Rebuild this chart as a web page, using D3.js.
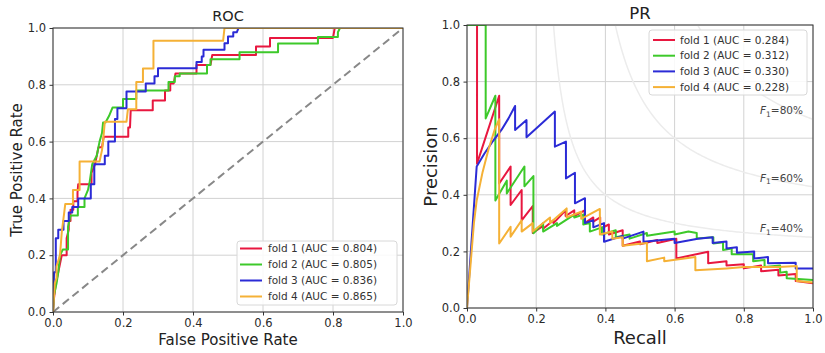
<!DOCTYPE html>
<html>
<head>
<meta charset="utf-8">
<script src="https://cdn.jsdelivr.net/npm/d3@7"></script>
<style>
  html, body { margin: 0; padding: 0; background: #fff; }
  svg { display: block; font-family: "DejaVu Sans", sans-serif; }
</style>
</head>
<body>
<svg id="chart" width="825" height="353"></svg>
<script>
// ---------------- data ----------------
const foldNames = ["fold 1", "fold 2", "fold 3", "fold 4"];
const rocAUC = ["0.804", "0.805", "0.836", "0.865"];
const prAUC = ["0.284", "0.312", "0.330", "0.228"];
const foldColors = ["#e8173f", "#3dc92a", "#2b2bd6", "#f5b136"];
const tickValues = [0, 0.2, 0.4, 0.6, 0.8, 1.0];
const tickLabels = ["0.0", "0.2", "0.4", "0.6", "0.8", "1.0"];
const f1Scores = [0.4, 0.6, 0.8];
const f1Labels = ["40%", "60%", "80%"];

// ROC curves: [false positive rate, true positive rate]
const rocFold1 = [[0,0],[0.003,0.05],[0.008,0.10],[0.015,0.14],[0.02,0.17],[0.025,0.2],[0.039,0.2],[0.039,0.26],[0.045,0.29],[0.045,0.32],[0.05,0.32],[0.05,0.36],[0.058,0.36],[0.058,0.39],[0.07,0.39],[0.07,0.42],[0.072,0.45],[0.11,0.45],[0.11,0.49],[0.12,0.52],[0.125,0.55],[0.13,0.58],[0.14,0.58],[0.145,0.617],[0.215,0.617],[0.215,0.65],[0.22,0.65],[0.222,0.71],[0.285,0.71],[0.285,0.745],[0.32,0.745],[0.32,0.78],[0.335,0.78],[0.335,0.805],[0.345,0.805],[0.35,0.84],[0.41,0.84],[0.41,0.87],[0.45,0.87],[0.455,0.905],[0.58,0.905],[0.58,0.935],[0.62,0.935],[0.62,0.965],[0.80,0.965],[0.805,1.0],[1,1]];
const rocFold2 = [[0,0],[0.003,0.06],[0.01,0.1],[0.015,0.14],[0.02,0.2],[0.028,0.22],[0.043,0.22],[0.043,0.3],[0.05,0.34],[0.071,0.34],[0.071,0.37],[0.09,0.37],[0.09,0.4],[0.1,0.43],[0.105,0.46],[0.112,0.52],[0.125,0.55],[0.133,0.6],[0.14,0.63],[0.143,0.667],[0.15,0.667],[0.16,0.69],[0.17,0.72],[0.2,0.72],[0.2,0.75],[0.238,0.75],[0.238,0.78],[0.33,0.78],[0.33,0.81],[0.348,0.81],[0.348,0.83],[0.362,0.83],[0.362,0.84],[0.44,0.84],[0.44,0.87],[0.45,0.87],[0.45,0.89],[0.533,0.89],[0.533,0.915],[0.643,0.915],[0.643,0.945],[0.757,0.945],[0.757,0.968],[0.814,0.968],[0.814,0.985],[0.82,1.0],[1,1]];
const rocFold3 = [[0,0],[0.003,0.14],[0.008,0.14],[0.008,0.26],[0.015,0.26],[0.015,0.29],[0.03,0.29],[0.03,0.32],[0.045,0.32],[0.045,0.35],[0.055,0.35],[0.055,0.37],[0.072,0.37],[0.072,0.40],[0.108,0.40],[0.108,0.45],[0.118,0.45],[0.118,0.52],[0.148,0.52],[0.148,0.55],[0.158,0.55],[0.158,0.60],[0.177,0.60],[0.177,0.68],[0.184,0.68],[0.184,0.717],[0.21,0.717],[0.21,0.776],[0.265,0.776],[0.265,0.805],[0.29,0.805],[0.29,0.83],[0.30,0.83],[0.30,0.858],[0.41,0.858],[0.41,0.88],[0.425,0.88],[0.425,0.90],[0.43,0.90],[0.43,0.923],[0.49,0.923],[0.49,0.946],[0.50,0.946],[0.50,0.97],[0.515,0.97],[0.515,0.985],[0.525,0.985],[0.53,1.0],[1,1]];
const rocFold4 = [[0,0],[0.005,0.1],[0.01,0.12],[0.01,0.16],[0.02,0.2],[0.025,0.28],[0.03,0.33],[0.035,0.38],[0.057,0.38],[0.057,0.43],[0.076,0.43],[0.076,0.53],[0.133,0.53],[0.14,0.57],[0.143,0.6],[0.148,0.67],[0.21,0.67],[0.214,0.714],[0.238,0.714],[0.238,0.81],[0.257,0.81],[0.257,0.857],[0.287,0.857],[0.287,0.955],[0.486,0.955],[0.49,1.0],[1,1]];

// PR curves: [recall, precision]
const prFold1 = [[0,1],[0.029,1],[0.029,0.51],[0.093,0.75],[0.093,0.44],[0.126,0.50],[0.126,0.364],[0.158,0.417],[0.158,0.31],[0.19,0.36],[0.19,0.265],[0.22,0.29],[0.22,0.28],[0.25,0.31],[0.25,0.30],[0.285,0.345],[0.285,0.325],[0.31,0.345],[0.31,0.325],[0.34,0.345],[0.34,0.30],[0.365,0.32],[0.365,0.305],[0.385,0.32],[0.385,0.28],[0.41,0.295],[0.41,0.26],[0.45,0.275],[0.45,0.22],[0.5,0.235],[0.5,0.225],[0.55,0.24],[0.55,0.23],[0.605,0.245],[0.605,0.175],[0.697,0.199],[0.697,0.158],[0.75,0.165],[0.75,0.15],[0.8,0.155],[0.8,0.14],[0.85,0.15],[0.85,0.13],[0.9,0.135],[0.9,0.115],[0.95,0.12],[0.95,0.095],[1,0.087]];
const prFold2 = [[0,1],[0.054,1],[0.054,0.67],[0.082,0.75],[0.082,0.38],[0.115,0.45],[0.115,0.405],[0.166,0.5],[0.166,0.43],[0.192,0.466],[0.192,0.264],[0.22,0.30],[0.22,0.27],[0.26,0.30],[0.26,0.29],[0.31,0.33],[0.31,0.32],[0.336,0.33],[0.336,0.295],[0.355,0.30],[0.355,0.27],[0.39,0.285],[0.39,0.26],[0.43,0.275],[0.43,0.25],[0.47,0.26],[0.47,0.245],[0.52,0.265],[0.52,0.255],[0.6,0.27],[0.6,0.26],[0.64,0.27],[0.664,0.265],[0.664,0.246],[0.712,0.25],[0.712,0.228],[0.74,0.232],[0.74,0.205],[0.765,0.21],[0.765,0.19],[0.827,0.19],[0.827,0.165],[0.86,0.17],[0.86,0.145],[0.905,0.15],[0.905,0.125],[0.924,0.128],[0.924,0.105],[1,0.099]];
const prFold3 = [[0,0],[0.028,0.5],[0.05,0.545],[0.075,0.59],[0.1,0.63],[0.12,0.67],[0.139,0.714],[0.139,0.629],[0.172,0.664],[0.172,0.603],[0.254,0.694],[0.254,0.57],[0.286,0.588],[0.286,0.458],[0.312,0.478],[0.312,0.37],[0.341,0.388],[0.341,0.30],[0.365,0.31],[0.365,0.285],[0.396,0.30],[0.396,0.234],[0.45,0.255],[0.45,0.245],[0.51,0.27],[0.51,0.234],[0.6,0.245],[0.6,0.23],[0.667,0.245],[0.71,0.25],[0.71,0.23],[0.75,0.235],[0.75,0.21],[0.78,0.215],[0.78,0.195],[0.83,0.2],[0.83,0.175],[0.87,0.18],[0.87,0.158],[0.95,0.16],[0.95,0.14],[1,0.14]];
const prFold4 = [[0,0],[0.01,0.15],[0.02,0.3],[0.028,0.38],[0.045,0.48],[0.062,0.56],[0.08,0.63],[0.093,0.667],[0.093,0.228],[0.126,0.287],[0.126,0.252],[0.158,0.31],[0.158,0.27],[0.19,0.3],[0.19,0.27],[0.24,0.32],[0.24,0.3],[0.288,0.352],[0.288,0.32],[0.33,0.34],[0.33,0.315],[0.384,0.35],[0.384,0.26],[0.42,0.27],[0.42,0.245],[0.45,0.25],[0.45,0.22],[0.52,0.23],[0.52,0.165],[0.57,0.178],[0.57,0.165],[0.66,0.18],[0.66,0.133],[0.75,0.14],[0.8,0.145],[0.85,0.145],[0.9,0.145],[0.953,0.148],[0.953,0.095],[1,0.09]];

const rocSeries = [rocFold1, rocFold2, rocFold3, rocFold4];
const prSeries = [prFold1, prFold2, prFold3, prFold4];

// ---------------- drawing ----------------
const svg = d3.select("#chart");
const FONT = "DejaVu Sans, sans-serif";

function drawPanel(cfg) {
  const g = svg.append("g").attr("transform", `translate(${cfg.left},${cfg.top})`);
  const x = d3.scaleLinear().domain([0, 1]).range([0, cfg.w]);
  const y = d3.scaleLinear().domain([0, 1]).range([cfg.h, 0]);

  const clipId = "clip-" + cfg.id;
  svg.append("defs").append("clipPath").attr("id", clipId)
    .append("rect").attr("x", 0).attr("y", 0).attr("width", cfg.w).attr("height", cfg.h);

  // grid
  const grid = g.append("g");
  grid.selectAll(".gx").data(tickValues).join("line")
    .attr("x1", d => x(d)).attr("x2", d => x(d)).attr("y1", 0).attr("y2", cfg.h)
    .attr("stroke", "#d2d2d2").attr("stroke-width", 1);
  grid.selectAll(".gy").data(tickValues).join("line")
    .attr("y1", d => y(d)).attr("y2", d => y(d)).attr("x1", 0).attr("x2", cfg.w)
    .attr("stroke", "#d2d2d2").attr("stroke-width", 1);

  const plot = g.append("g").attr("clip-path", `url(#${clipId})`);
  if (cfg.extra) cfg.extra(plot, g, x, y);

  const line = d3.line().x(d => x(d[0])).y(d => y(d[1]));
  plot.selectAll(".curve").data(cfg.series).join("path")
    .attr("d", line)
    .attr("fill", "none")
    .attr("stroke", (d, i) => foldColors[i])
    .attr("stroke-width", 2)
    .attr("stroke-linejoin", "round");

  // axes
  const fmt = (d) => tickLabels[tickValues.indexOf(d)];
  const xa = g.append("g").attr("transform", `translate(0,${cfg.h})`)
    .call(d3.axisBottom(x).tickValues(tickValues).tickFormat(fmt).tickSize(3.5).tickPadding(3.5));
  const ya = g.append("g")
    .call(d3.axisLeft(y).tickValues(tickValues).tickFormat(fmt).tickSize(3.5).tickPadding(3.5));
  [xa, ya].forEach(a => {
    a.select(".domain").remove();
    a.selectAll("line").attr("stroke", "#333");
    a.selectAll("text").attr("font-family", FONT).attr("font-size", 11.5).attr("fill", "#2a2a2a");
  });

  // frame
  g.append("rect").attr("x", 0).attr("y", 0).attr("width", cfg.w).attr("height", cfg.h)
    .attr("fill", "none").attr("stroke", "#333").attr("stroke-width", 1);

  // title & labels
  g.append("text").attr("x", cfg.w / 2).attr("y", cfg.titleY).attr("text-anchor", "middle")
    .attr("font-family", FONT).attr("font-size", cfg.titleSize).attr("fill", "#222").text(cfg.title);
  g.append("text").attr("x", cfg.w / 2).attr("y", cfg.xLabelY).attr("text-anchor", "middle")
    .attr("font-family", FONT).attr("font-size", cfg.labelSize).attr("fill", "#222").text(cfg.xLabel);
  g.append("text").attr("transform", `translate(${cfg.yLabelX},${cfg.h / 2}) rotate(-90)`)
    .attr("text-anchor", "middle")
    .attr("font-family", FONT).attr("font-size", cfg.labelSize).attr("fill", "#222").text(cfg.yLabel);

  // legend
  const L = cfg.legend;
  const lg = g.append("g").attr("transform", `translate(${L.x},${L.y})`);
  lg.append("rect").attr("x", 0).attr("y", 0).attr("width", L.w).attr("height", L.h)
    .attr("rx", 3).attr("fill", "#fff").attr("fill-opacity", 0.85)
    .attr("stroke", "#d8d8d8").attr("stroke-width", 1);
  foldNames.forEach((name, i) => {
    const yy = L.row0 + i * L.rowStep;
    lg.append("line").attr("x1", L.lineX0).attr("x2", L.lineX1).attr("y1", yy).attr("y2", yy)
      .attr("stroke", foldColors[i]).attr("stroke-width", 2);
    lg.append("text").attr("x", L.textX).attr("y", yy).attr("dy", "0.36em")
      .attr("font-family", FONT).attr("font-size", 10.5).attr("fill", "#333")
      .attr("xml:space", "preserve")
      .text(`${name} (AUC = ${cfg.auc[i]})`);
  });
}

// ROC panel
drawPanel({
  id: "roc", left: 53, top: 28, w: 350, h: 284,
  series: rocSeries, auc: rocAUC,
  title: "ROC", titleY: -7, titleSize: 14.5,
  xLabel: "False Positive Rate", yLabel: "True Positive Rate",
  xLabelY: 317, yLabelX: -31, labelSize: 15,
  legend: { x: 184, y: 213, w: 160, h: 64, row0: 7.5, rowStep: 16, lineX0: 3, lineX1: 25, textX: 31 },
  extra: (plot, g, x, y) => {
    plot.append("line").attr("x1", x(0)).attr("y1", y(0)).attr("x2", x(1)).attr("y2", y(1))
      .attr("stroke", "#888").attr("stroke-width", 2).attr("stroke-dasharray", "8,4.5");
  }
});

// PR panel
drawPanel({
  id: "pr", left: 467, top: 25, w: 346, h: 283,
  series: prSeries, auc: prAUC,
  title: "PR", titleY: -6.5, titleSize: 16.5,
  xLabel: "Recall", yLabel: "Precision",
  xLabelY: 319, yLabelX: -30, labelSize: 18,
  legend: { x: 182, y: 5, w: 158, h: 65, row0: 10, rowStep: 15.7, lineX0: 4, lineX1: 26, textX: 31 },
  extra: (plot, g, x, y) => {
    const rs = d3.range(0, 1.0001, 0.005);
    f1Scores.forEach((f, i) => {
      const pts = rs.filter(r => 2 * r - f > 0)
        .map(r => [r, f * r / (2 * r - f)])
        .filter(d => d[1] <= 1.3 && d[1] >= 0);
      plot.append("path").attr("d", d3.line().x(d => x(d[0])).y(d => y(d[1]))(pts))
        .attr("fill", "none").attr("stroke", "#ececec").attr("stroke-width", 1.5);
      const yEnd = y(f / (2 - f));
      const t = g.append("text").attr("x", x(1) - 10).attr("y", yEnd - 5).attr("text-anchor", "end")
        .attr("font-family", FONT).attr("font-size", 10.5).attr("fill", "#444");
      t.append("tspan").attr("font-style", "italic").text("F");
      t.append("tspan").attr("font-size", 7.5).attr("dy", 2.5).text("1");
      t.append("tspan").attr("dy", -2.5).text("=" + f1Labels[i]);
    });
  }
});
</script>
</body>
</html>
